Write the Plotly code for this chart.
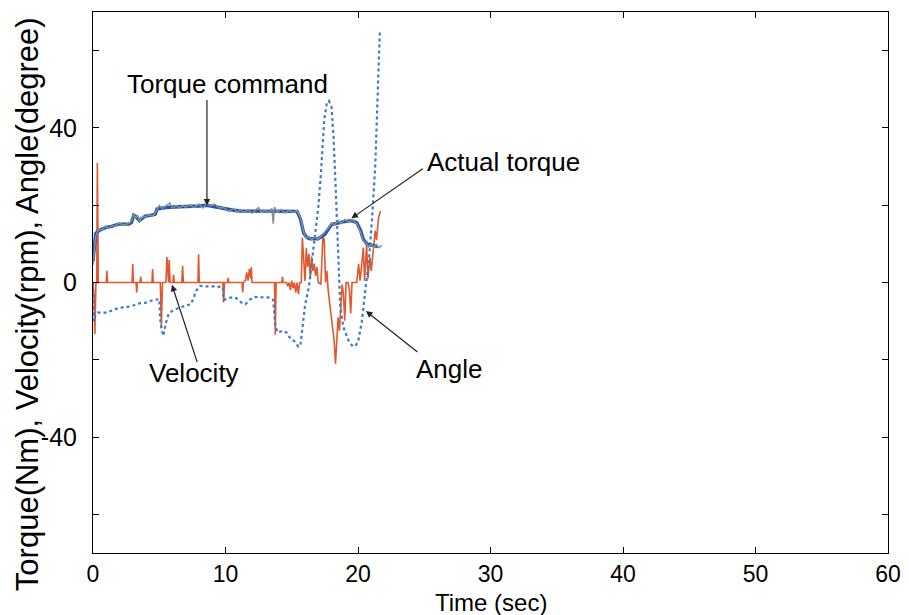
import plotly.graph_objects as go

# ---- data ----
t_cmd = [0.0, 0.1, 0.2, 0.42, 0.93, 1.4, 1.93, 2.7, 2.9, 3.07, 3.25, 3.5, 3.7, 3.95, 4.5, 4.7, 4.83,
         5.46, 6.5, 7.3, 8.0, 8.6, 9.2, 9.86, 10.6, 11.1, 12.5, 13.6, 14.5, 15.4, 15.65, 15.9, 16.1,
         16.3, 17.0, 17.5, 18.0, 18.5, 19.0, 19.55, 19.9, 20.2, 20.4, 20.7, 21.2, 21.5]
torque_cmd = [5.5, 9, 12.6, 13.4, 14.2, 14.5, 15.1, 15.1, 15.5, 17.4, 17.0, 16.0, 16.6, 17.2, 17.5, 17.7, 19.0,
              19.4, 19.6, 19.6, 19.8, 20.0, 19.6, 19.0, 18.7, 18.5, 18.5, 18.4, 18.3, 18.4, 16.5, 12.8, 11.8,
              11.4, 11.3, 12.5, 15.0, 15.5, 15.8, 16.0, 15.5, 13.4, 11.2, 9.9, 9.5, 9.3]

t_act = [0.0, 0.1, 0.2, 0.42, 0.7, 0.93, 1.2, 1.4, 1.7, 1.93, 2.3, 2.7, 2.9, 3.07, 3.2, 3.35, 3.5, 3.7,
         3.95, 4.2, 4.5, 4.7, 4.83, 5.0, 5.2, 5.46, 5.8, 6.0, 6.3, 6.5, 6.8, 7.0, 7.3, 7.6, 8.0, 8.3,
         8.6, 8.9, 9.2, 9.5, 9.86, 10.2, 10.6, 10.9, 11.1, 11.4, 11.7, 12.0, 12.3, 12.5, 12.7, 13.0,
         13.3, 13.5, 13.6, 13.7, 13.9, 14.2, 14.5, 14.8, 15.1, 15.4, 15.65, 15.9, 16.1, 16.3, 16.5,
         16.7, 17.0, 17.2, 17.5, 17.8, 18.0, 18.2, 18.5, 18.7, 19.0, 19.3, 19.55, 19.9, 20.2, 20.4,
         20.6, 20.8, 21.0, 21.2, 21.4, 21.6, 21.8]
torque_act = [4.5, 8.5, 12, 13.8, 13.6, 14.6, 14.0, 14.8, 14.6, 15.4, 14.9, 15.3, 15.8, 17.9, 16.6, 17.5, 15.8, 16.9,
              17.0, 17.6, 17.2, 18.0, 18.7, 19.9, 19.2, 19.7, 20.6, 19.2, 19.9, 19.3, 19.9, 19.5, 20.1, 19.4, 20.3, 19.3,
              20.4, 19.8, 20.3, 19.3, 19.4, 18.4, 19.2, 18.2, 18.9, 18.1, 18.8, 17.9, 18.9, 19.4, 18.2, 18.7,
              18.1, 19.2, 15.2, 19.5, 18.2, 18.9, 18.0, 18.7, 18.1, 18.6, 16.8, 13.0, 11.4, 11.9, 11.0,
              11.8, 11.1, 11.9, 12.9, 14.3, 15.4, 14.9, 16.0, 15.3, 16.3, 15.6, 16.3, 15.2, 13.0, 10.8,
              10.3, 9.2, 10.0, 9.1, 9.8, 9.0, 9.6]

t_vel = [0.00, 0.08, 0.14, 0.22, 0.28, 0.33, 0.40,
         1.00, 1.05, 1.10,
         2.95, 3.00, 3.05, 3.25, 3.30, 3.35, 3.55, 3.60, 3.65,
         4.45, 4.50, 4.55,
         5.08, 5.16, 5.24, 5.50, 5.58, 5.65, 5.70, 5.75, 5.82, 6.02, 6.08, 6.14,
         6.70, 6.76, 6.82, 7.92, 7.97, 8.02,
         9.80, 9.86, 9.92, 10.15, 10.20, 10.25,
         11.25, 11.30, 11.35, 11.50, 11.60, 11.70, 11.80, 11.90, 11.95, 12.00,
         13.70, 13.76, 13.82, 14.25, 14.30, 14.35,
         14.60, 14.70, 14.80, 14.90, 15.00, 15.10, 15.20, 15.30, 15.40, 15.50, 15.60,
         15.72, 15.80, 15.90, 16.00, 16.10, 16.20, 16.30, 16.40, 16.50, 16.60, 16.70, 16.80, 16.90,
         17.00, 17.20, 17.35, 17.45, 17.55, 17.65, 17.75, 17.90, 18.05, 18.20, 18.30, 18.40, 18.50,
         18.60, 18.70, 18.80, 18.90, 19.00, 19.10, 19.25, 19.35, 19.45, 19.55, 19.90, 20.05, 20.15,
         20.25, 20.40, 20.50, 20.65, 20.75, 20.90, 21.00, 21.15, 21.30, 21.40, 21.55, 21.70]
velocity = [0, -4, -13.3, 0, 0, 31, 0,
            0, 3, 0,
            0, 4.8, 0, 0, -2.6, 0, 0, 1.5, 0,
            0, 3.5, 0,
            0, -11.6, 0, 0, 6.6, 0, 0, 5.8, 0, 0, 2, 0,
            0, 4.3, 0, 0, 7.3, 0,
            0, -5.2, 0, 0, 1.2, 0,
            0, -2.6, 0, 0.5, 2.6, 0.5, 3.5, 1, 4, 0,
            0, -13.5, 0, 0, 1.5, 0,
            0, -1, 0, -2, 0.5, -1.5, 0, -2.6, 0, -3, 0,
            0, 11.6, 6, 0.4, 9, 4, 7.4, 1, 6.7, 3, 4.8, 1.7, 4,
            0, -0.4, 12, 11, 0, 3, -2, -6.5, -10.8, -15, -21, -15.5, -9,
            -12.5, -5, -0.5, -3, -9.9, 0, 0, -2, -8, 0, 0, 4.8, 0.5,
            3.5, 9, 0.4, 10, 1, 6.5, 3, 9, 13.4, 11, 16.8, 18.5]

t_ang = [0.0, 0.08, 0.18, 0.35, 1.0, 1.5, 2.0, 2.5, 3.0, 3.5, 4.0, 4.5, 5.0, 5.1, 5.3, 5.5, 5.7,
         6.0, 6.5, 7.0, 7.4, 7.8, 8.1, 8.5, 9.1, 9.8, 9.86, 10.36, 10.8, 11.2, 11.5, 11.8, 12.25,
         12.5, 13.3, 13.6, 13.76, 14.0, 14.26, 14.6, 14.9, 15.2, 15.5, 15.65, 15.8, 16.0, 16.3,
         16.65, 17.0, 17.2, 17.45, 17.65, 17.8, 18.0, 18.15, 18.3, 18.4, 18.5, 18.66, 18.9, 19.3,
         19.6, 19.8, 20.0, 20.15, 20.3, 20.55, 20.8, 21.05, 21.3, 21.45, 21.55, 21.65]
angle = [0, -10, -8.5, -7.8, -7.8, -7.2, -6.5, -6.4, -6.0, -5.4, -5.2, -4.6, -4.3, -10.7, -13.8, -10.5, -8.2,
         -7.3, -6.5, -6.0, -5.6, -2.1, -0.9, -1.0, -1.0, -1.2, -4.5, -3.9, -4.0, -5.2, -5.6, -4.5, -3.7,
         -3.8, -3.9, -4.5, -11.6, -13.0, -12.5, -12.9, -14.5, -15.2, -16.6, -16.4, -12.0, -6.0, -1.0,
         9.0, 19.4, 28.0, 42.0, 46.5, 47.0, 45.5, 38.0, 26.0, 17.7, 4.8, -6.5, -11.6, -15.1,
         -16.5, -16.4, -15.5, -12.5, -9.9, -2.1, 4.8, 16.0, 30.0, 45.0, 57.0, 65.0]

x_ticks = [0, 10, 20, 30, 40, 50, 60]
y_ticks = [-60, -40, -20, 0, 20, 40, 60]
y_tick_text = ["", "-40", "", "0", "", "40", ""]

FONT = "Liberation Sans, Arial, sans-serif"

fig = go.Figure()
fig.add_trace(go.Scatter(x=t_vel, y=velocity, mode="lines", name="Velocity",
                         line=dict(color="#E2582E", width=1.6)))
fig.add_trace(go.Scatter(x=t_ang, y=angle, mode="lines", name="Angle",
                         line=dict(color="#3B7BCB", width=2.2, dash="dot")))
fig.add_trace(go.Scatter(x=t_cmd, y=torque_cmd, mode="lines", name="Torque command",
                         line=dict(color="#2250BC", width=3.4)))
fig.add_trace(go.Scatter(x=t_act, y=torque_act, mode="lines", name="Actual torque",
                         line=dict(color="#7C9590", width=1.5)))

ann_font = dict(family=FONT, size=26, color="black")
arrow_common = dict(xref="x", yref="y", axref="x", ayref="y", text="", showarrow=True,
                    arrowhead=2, arrowsize=1.1, arrowwidth=1.2, arrowcolor="#222222")

annotations = [
    dict(x=10.14, y=51.4, xref="x", yref="y", text="Torque command", showarrow=False, font=ann_font),
    dict(x=8.6, y=19.9, ax=8.6, ay=47.6, **arrow_common),
    dict(x=30.97, y=31.3, xref="x", yref="y", text="Actual torque", showarrow=False, font=ann_font),
    dict(x=19.5, y=16.6, ax=25.0, ay=29.7, **arrow_common),
    dict(x=7.6, y=-23.3, xref="x", yref="y", text="Velocity", showarrow=False, font=ann_font),
    dict(x=5.96, y=-0.6, ax=7.9, ay=-21.0, **arrow_common),
    dict(x=26.9, y=-22.3, xref="x", yref="y", text="Angle", showarrow=False, font=ann_font),
    dict(x=20.6, y=-7.4, ax=24.6, ay=-18.3, **arrow_common),
    dict(x=-0.083, y=0.46, xref="paper", yref="paper", text="Torque(Nm), Velocity(rpm), Angle(degree)",
         showarrow=False, textangle=-90, xanchor="center", yanchor="middle",
         font=dict(family=FONT, size=31, color="black")),
    dict(x=0.5, y=-0.092, xref="paper", yref="paper", text="Time (sec)", showarrow=False,
         xanchor="center", yanchor="middle", font=dict(family=FONT, size=24, color="black")),
]

# the page body adds an 8px offset, so the figure is 8px smaller than the window
fig.update_layout(
    width=901, height=607,
    margin=dict(l=85, r=21, t=4, b=62, autoexpand=False),
    paper_bgcolor="white", plot_bgcolor="white",
    showlegend=False,
    font=dict(family=FONT, size=24, color="black"),
    annotations=annotations,
)
fig.update_xaxes(range=[0, 60], tickvals=x_ticks, ticks="inside", ticklen=6, tickcolor="black",
                 showline=True, linecolor="black", linewidth=1, mirror="allticks", showgrid=False,
                 zeroline=False, tickfont=dict(family=FONT, size=23), automargin=False,
                 ticklabelstandoff=0)
fig.update_yaxes(range=[-70, 70], tickvals=y_ticks, ticktext=y_tick_text, ticks="inside", ticklen=6,
                 tickcolor="black", showline=True, linecolor="black", linewidth=1, mirror="allticks",
                 showgrid=False, zeroline=False, tickfont=dict(family=FONT, size=25), automargin=False,
                 ticklabelstandoff=10)

fig.write_html("out.html")
